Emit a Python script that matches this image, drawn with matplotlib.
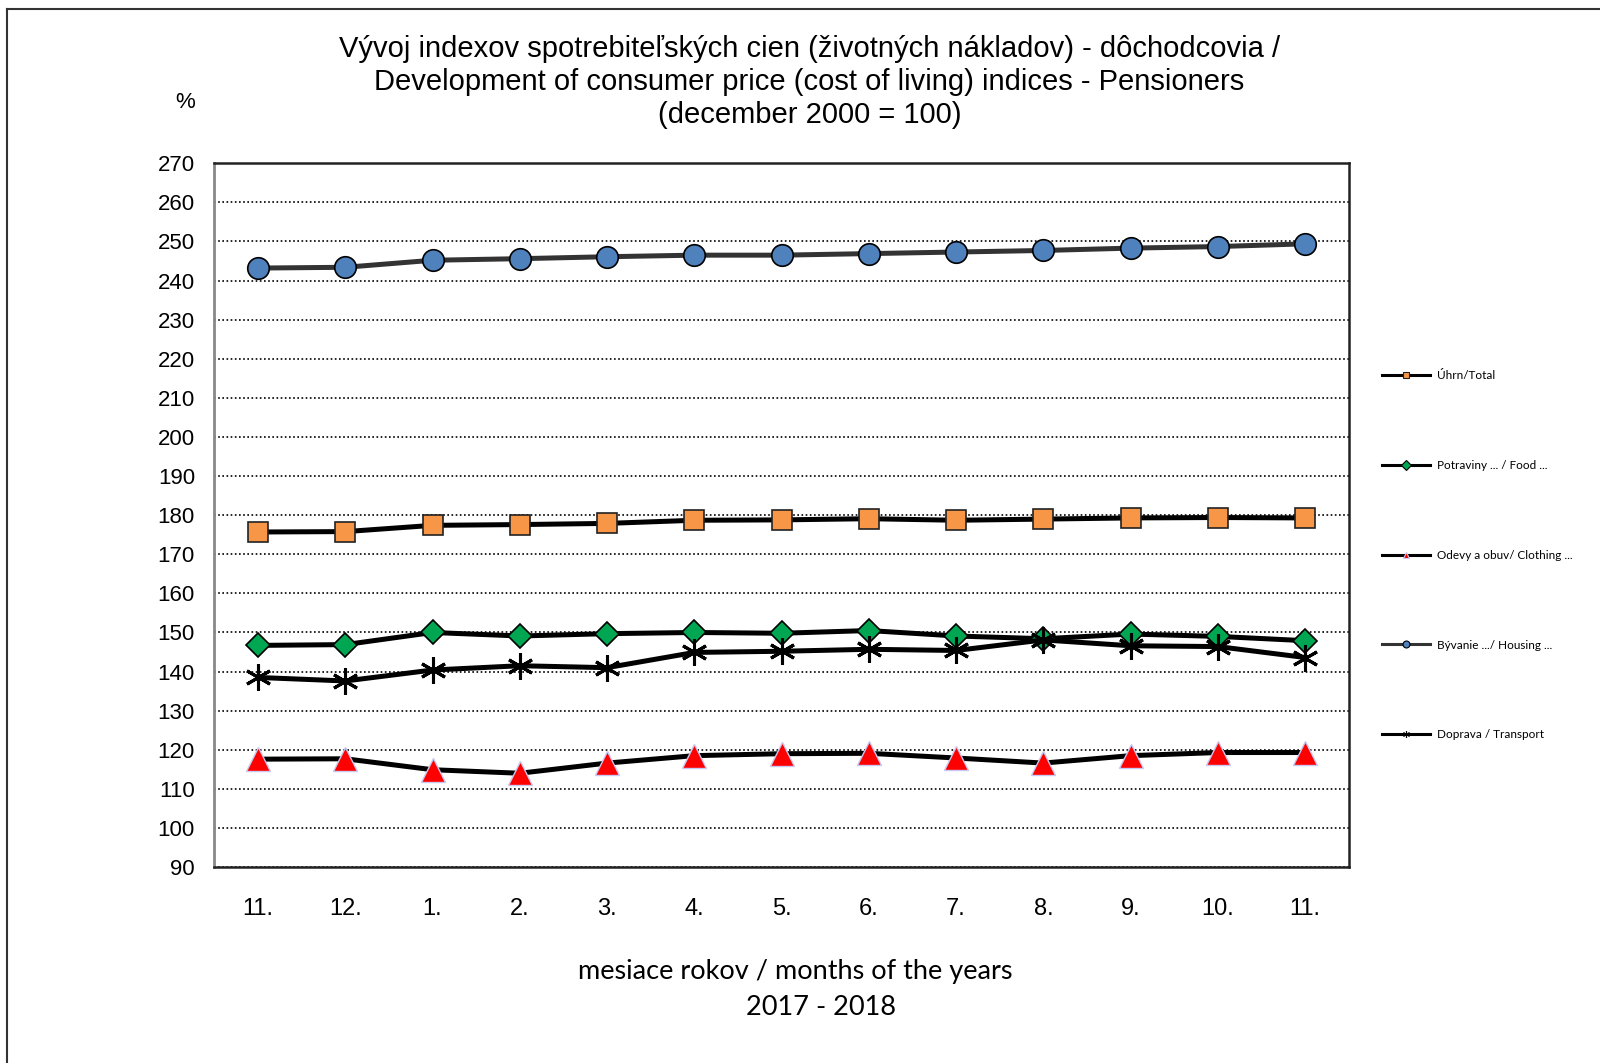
import matplotlib.pyplot as plt
from matplotlib.lines import Line2D

# months Nov 2017 - Nov 2018
months = ['11.', '12.', '1.', '2.', '3.', '4.', '5.', '6.', '7.', '8.', '9.', '10.', '11.']

total = [175.7, 175.8, 177.4, 177.6, 177.9, 178.7, 178.8, 179.1, 178.7, 179.0, 179.3, 179.4, 179.3]
food = [146.7, 146.9, 150.0, 149.1, 149.7, 150.0, 149.8, 150.5, 149.1, 148.4, 149.6, 149.0, 147.9]
clothing = [117.6, 117.7, 114.9, 114.0, 116.6, 118.5, 119.0, 119.1, 117.9, 116.6, 118.5, 119.3, 119.3]
housing = [243.2, 243.4, 245.2, 245.6, 246.1, 246.5, 246.5, 246.9, 247.3, 247.7, 248.3, 248.7, 249.4]
transport = [138.5, 137.6, 140.4, 141.5, 141.0, 144.9, 145.2, 145.7, 145.4, 148.1, 146.6, 146.4, 143.6]

labels = ['Úhrn/Total', 'Potraviny ... / Food ...', 'Odevy a obuv/ Clothing ...',
          'Bývanie .../ Housing ...', 'Doprava / Transport']

plt.rcParams['font.family'] = ['Liberation Sans', 'DejaVu Sans']

fig = plt.figure(figsize=(16, 10.63), dpi=100)
ax = fig.add_axes([0.134, 0.1843, 0.709, 0.6621])

x = list(range(len(months)))
lw = 3.6

h_housing, = ax.plot(x, housing, color='#333333', lw=lw, marker='o', ms=15.5,
                     mfc='#4f81bd', mec='black', mew=1.2, zorder=3)
h_total, = ax.plot(x, total, color='black', lw=lw, marker='s', ms=14.5,
                   mfc='#f79646', mec='#222222', mew=1.2, zorder=3)
h_food, = ax.plot(x, food, color='black', lw=lw, marker='D', ms=12.5,
                  mfc='#00a651', mec='black', mew=1.2, zorder=3)
h_transport, = ax.plot(x, transport, color='black', lw=lw, marker=(6, 2, 0), ms=19,
                       mec='black', mew=2.2, zorder=4)
h_clothing, = ax.plot(x, clothing, color='black', lw=lw, marker='^', ms=17,
                      mfc='#ff0000', mec='#c8c8f0', mew=1.0, zorder=3)

ax.set_xlim(-0.5, len(months) - 0.5)
ax.set_ylim(90, 270)
ax.set_yticks(range(90, 271, 10))
ax.set_xticks(x)
ax.set_xticklabels(months, fontsize=17)
ax.tick_params(axis='y', labelsize=16, length=0, pad=14)
ax.tick_params(axis='x', length=0, pad=22)
ax.grid(axis='y', linestyle=(0, (1, 1.5)), color='black', lw=1.2)
ax.set_axisbelow(True)
for side in ['top', 'right', 'bottom']:
    ax.spines[side].set_color('#222222')
    ax.spines[side].set_linewidth(1.8)
ax.spines['left'].set_color('#888888')
ax.spines['left'].set_linewidth(2)

fig.text(0.506, 0.923, 'Vývoj indexov spotrebiteľských cien (životných nákladov) - dôchodcovia /\n'
         'Development of consumer price (cost of living) indices - Pensioners\n'
         '(december 2000 = 100)', ha='center', va='center', fontsize=21, linespacing=1.24)
fig.text(0.1154, 0.904, '%', ha='center', va='center', fontsize=16)

fig.text(0.497, 0.0864, 'mesiace rokov / months of the years', ha='center', va='center',
         fontsize=19.5, family=['Lato', 'DejaVu Sans'])
fig.text(0.513, 0.0518, '2017 - 2018', ha='center', va='center',
         fontsize=19.5, family=['Lato', 'DejaVu Sans'])

# legend
handles = []
for h in [h_total, h_food, h_clothing, h_housing, h_transport]:
    handles.append(Line2D([0], [0], color=h.get_color(), lw=2.2, marker=h.get_marker(),
                          ms=5, mfc=h.get_markerfacecolor(), mec=h.get_markeredgecolor(),
                          mew=0.8))
fig.legend(handles, labels, loc='upper left', bbox_to_anchor=(0.857, 0.662), frameon=False,
           labelspacing=6.68, handlelength=4.1, handletextpad=0.6,
           prop={'family': ['Lato', 'DejaVu Sans'], 'size': 8.5})

# outer frame
fig.add_artist(Line2D([0.0045, 0.0045], [0.0, 0.9915], color='#333333', lw=1.5))
fig.add_artist(Line2D([0.0045, 1.0], [0.9915, 0.9915], color='#333333', lw=1.5))

fig.savefig('out.png', dpi=100)
